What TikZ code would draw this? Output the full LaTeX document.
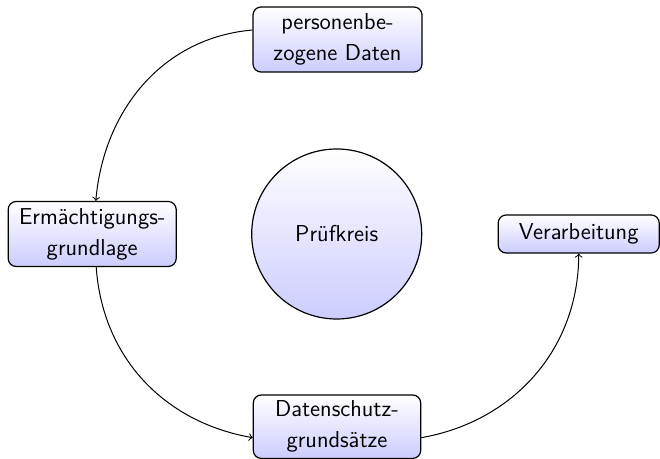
\documentclass[tikz,border=0pt]{standalone}
\usepackage{fontspec}
\begin{document}
\begin{tikzpicture}[x=0.5pt,y=0.5pt,
  box/.style={draw=black, line width=0.6pt, rounded corners=4pt,
    top color=white, bottom color=blue!20, align=center, inner sep=0pt,
    font=\sffamily\fontsize{11.5}{15.4}\selectfont},
  ring/.style={circle, draw=black, line width=0.6pt,
    top color=white, bottom color=blue!20, inner sep=0pt,
    font=\sffamily\fontsize{11.5}{15.4}\selectfont},
  conn/.style={->, line width=0.5pt}]
\useasboundingbox (0,0) rectangle (660,-459);
\node[box, minimum width=84.5pt, minimum height=32.5pt] (T) at (337.5,-39.5) {personenbe-\\zogene Daten};
\node[box, minimum width=84pt, minimum height=32.5pt] (L) at (92.2,-234) {Ermächtigungs-\\grundlage};
\node[box, minimum width=80.5pt, minimum height=19pt] (R) at (578.7,-234) {Verarbeitung};
\node[box, minimum width=83.7pt, minimum height=31.7pt] (B) at (337,-426.7) {Datenschutz-\\grundsätze};
\node[ring, minimum size=85pt] (C) at (336.7,-234) {Prüfkreis};
\draw[conn] ([yshift=4.75pt]T.west) to[out=185,in=85] ([xshift=1.8pt]L.north);
\draw[conn] ([xshift=2pt]L.south) to[out=-86,in=170] ([yshift=-5.5pt]B.west);
\draw[conn] ([yshift=-5.5pt]B.east) to[out=10,in=-90] (R.south);
\end{tikzpicture}
\end{document}
